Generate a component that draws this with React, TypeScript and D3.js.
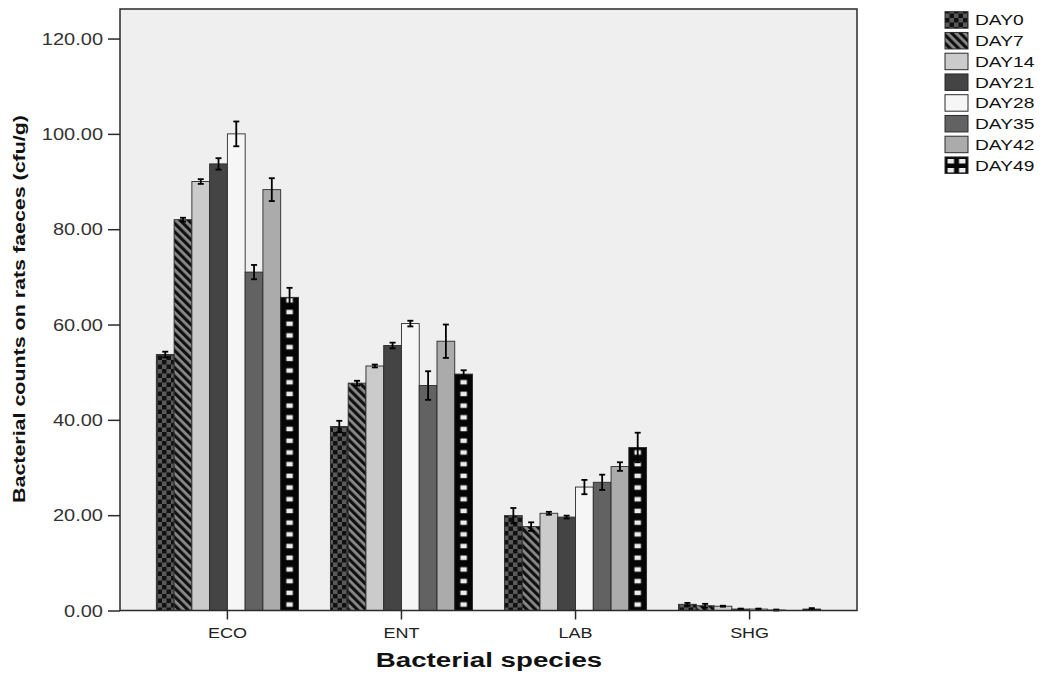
import React, { useEffect, useRef } from 'react';
import * as d3 from 'd3';

// categories / series
const species = ['ECO', 'ENT', 'LAB', 'SHG'];
const days = ['DAY0', 'DAY7', 'DAY14', 'DAY21', 'DAY28', 'DAY35', 'DAY42', 'DAY49'];

// means per species, one value per day
const ecoMeans = [53.7, 82.0, 90.0, 93.7, 100.0, 71.0, 88.3, 65.7];
const entMeans = [38.6, 47.7, 51.3, 55.6, 60.2, 47.2, 56.5, 49.6];
const labMeans = [19.9, 17.6, 20.4, 19.6, 25.9, 26.9, 30.2, 34.2];
const shgMeans = [1.3, 1.0, 0.9, 0.3, 0.3, 0.1, 0.0, 0.3];

// error (half length of error bar)
const ecoErrors = [0.6, 0.4, 0.5, 1.2, 2.6, 1.5, 2.4, 2.0];
const entErrors = [1.2, 0.5, 0.3, 0.6, 0.6, 3.0, 3.5, 0.8];
const labErrors = [1.6, 0.9, 0.3, 0.3, 1.5, 1.6, 0.9, 3.1];
const shgErrors = [0.3, 0.4, 0.1, 0.1, 0.1, 0.1, 0.0, 0.2];

const yTicks = [0, 20, 40, 60, 80, 100, 120];

const meansBySpecies = [ecoMeans, entMeans, labMeans, shgMeans];
const errorsBySpecies = [ecoErrors, entErrors, labErrors, shgErrors];

const W = 1048;
const H = 675;
const plot = { left: 120, right: 857, top: 9, bottom: 610.5 };
const FONT = '"Liberation Sans", Arial, sans-serif';

const solidFill: Record<string, string> = {
  DAY14: '#cbcbcb',
  DAY21: '#444444',
  DAY28: '#f6f6f6',
  DAY35: '#626262',
  DAY42: '#ababab',
};

const App = () => {
  const ref = useRef<SVGSVGElement>(null);

  useEffect(() => {
    const svg = d3.select(ref.current);
    svg.selectAll('*').remove();

    const rows = species.flatMap((sp, si) =>
      days.map((day, di) => ({
        sp,
        day,
        value: meansBySpecies[si][di],
        err: errorsBySpecies[si][di],
      }))
    );

    const x0 = d3.scaleBand().domain(species).range([plot.left, plot.right]).paddingInner(0).paddingOuter(0.117);
    const x1 = d3.scaleBand().domain(days).range([0, x0.bandwidth()]).paddingInner(0).paddingOuter(0.9);
    const y = d3.scaleLinear().domain([0, 126.2]).range([plot.bottom, plot.top]);
    const bw = x1.bandwidth();

    const defs = svg.append('defs');

    // checkerboard
    const check = defs.append('pattern').attr('id', 'pat-check')
      .attr('patternUnits', 'userSpaceOnUse').attr('width', 9).attr('height', 9);
    check.append('rect').attr('width', 9).attr('height', 9).attr('fill', '#5a5a5a');
    check.append('rect').attr('width', 4.5).attr('height', 4.5).attr('fill', '#111');
    check.append('rect').attr('x', 4.5).attr('y', 4.5).attr('width', 4.5).attr('height', 4.5).attr('fill', '#111');

    // diagonal stripes
    const diag = defs.append('pattern').attr('id', 'pat-diag')
      .attr('patternUnits', 'userSpaceOnUse').attr('width', 6).attr('height', 6)
      .attr('patternTransform', 'rotate(45)');
    diag.append('rect').attr('width', 6).attr('height', 6).attr('fill', '#111');
    diag.append('rect').attr('width', 6).attr('height', 2.8).attr('fill', '#8a8a8a');

    // ladder pattern, one per species so the squares sit centred in the bar
    species.forEach((sp) => {
      const bx = (x0(sp) as number) + (x1('DAY49') as number);
      const p = defs.append('pattern').attr('id', `pat-ladder-${sp}`)
        .attr('patternUnits', 'userSpaceOnUse')
        .attr('x', bx).attr('y', plot.bottom).attr('width', bw).attr('height', 11.7);
      p.append('rect').attr('width', bw).attr('height', 11.7).attr('fill', '#050505');
      p.append('rect').attr('x', (bw - 6.5) / 2).attr('y', 3.5).attr('width', 6.5).attr('height', 4.5).attr('fill', '#ececec');
    });
    const lg = defs.append('pattern').attr('id', 'pat-ladder-legend')
      .attr('patternUnits', 'userSpaceOnUse').attr('x', 945).attr('y', 157)
      .attr('width', 11.5).attr('height', 9);
    lg.append('rect').attr('width', 11.5).attr('height', 9).attr('fill', '#050505');
    lg.append('rect').attr('x', 2.5).attr('y', 2).attr('width', 6.5).attr('height', 4.5).attr('fill', '#ececec');

    const fillFor = (day: string, sp: string) => {
      if (day === 'DAY0') return 'url(#pat-check)';
      if (day === 'DAY7') return 'url(#pat-diag)';
      if (day === 'DAY49') return sp ? `url(#pat-ladder-${sp})` : 'url(#pat-ladder-legend)';
      return solidFill[day];
    };

    // plot background
    svg.append('rect')
      .attr('x', plot.left).attr('y', plot.top)
      .attr('width', plot.right - plot.left).attr('height', plot.bottom - plot.top)
      .attr('fill', '#efefef');

    // bars
    svg.append('g').selectAll('rect')
      .data(rows)
      .enter()
      .append('rect')
      .attr('x', (d) => (x0(d.sp) as number) + (x1(d.day) as number))
      .attr('y', (d) => y(d.value))
      .attr('width', bw)
      .attr('height', (d) => y(0) - y(d.value))
      .attr('fill', (d) => fillFor(d.day, d.sp))
      .attr('stroke', '#2b2b2b')
      .attr('stroke-width', 0.9);

    // error bars
    const eb = svg.append('g').attr('stroke', '#000').attr('stroke-width', 1.8);
    rows.filter((d) => d.err > 0).forEach((d) => {
      const cx = (x0(d.sp) as number) + (x1(d.day) as number) + bw / 2;
      eb.append('line').attr('x1', cx).attr('x2', cx).attr('y1', y(d.value - d.err)).attr('y2', y(d.value + d.err));
      eb.append('line').attr('x1', cx - 3).attr('x2', cx + 3).attr('y1', y(d.value - d.err)).attr('y2', y(d.value - d.err));
      eb.append('line').attr('x1', cx - 3).attr('x2', cx + 3).attr('y1', y(d.value + d.err)).attr('y2', y(d.value + d.err));
    });

    // frame
    svg.append('rect')
      .attr('x', plot.left).attr('y', plot.top)
      .attr('width', plot.right - plot.left).attr('height', plot.bottom - plot.top)
      .attr('fill', 'none').attr('stroke', '#2a2a2a').attr('stroke-width', 1.5);

    // y axis
    const yAxis = svg.append('g')
      .attr('transform', `translate(${plot.left},0)`)
      .call(d3.axisLeft(y).tickValues(yTicks).tickFormat(d3.format('.2f')).tickSize(12));
    yAxis.select('.domain').remove();
    yAxis.selectAll('line').attr('stroke', '#2a2a2a').attr('stroke-width', 1.5);
    yAxis.selectAll('text')
      .attr('x', 0).attr('dy', '0.36em')
      .attr('transform', 'translate(-17,0) scale(1.25,1)')
      .attr('font-family', FONT).attr('font-size', 16).attr('fill', '#333');

    // x axis
    const xAxis = svg.append('g')
      .attr('transform', `translate(0,${plot.bottom})`)
      .call(d3.axisBottom(x0).tickSize(9));
    xAxis.select('.domain').remove();
    xAxis.selectAll('line').attr('stroke', '#2a2a2a').attr('stroke-width', 1.5);
    xAxis.selectAll('text')
      .attr('y', 0).attr('dy', 0)
      .attr('transform', 'translate(0,27) scale(1.2,1)')
      .attr('font-family', FONT).attr('font-size', 15).attr('fill', '#222');

    // axis titles
    svg.append('text')
      .attr('transform', `translate(489,667) scale(1.32,1)`)
      .attr('text-anchor', 'middle')
      .attr('font-family', FONT).attr('font-size', 21).attr('font-weight', 'bold').attr('fill', '#111')
      .text('Bacterial species');

    svg.append('text')
      .attr('transform', 'translate(25,309) rotate(-90)')
      .attr('text-anchor', 'middle')
      .attr('textLength', 388).attr('lengthAdjust', 'spacingAndGlyphs')
      .attr('font-family', FONT).attr('font-size', 17).attr('font-weight', 'bold').attr('fill', '#111')
      .text('Bacterial counts on rats faeces (cfu/g)');

    // legend
    const legend = svg.append('g');
    days.forEach((day, i) => {
      const ry = 11.7 + i * 20.75;
      legend.append('rect')
        .attr('x', 945).attr('y', ry).attr('width', 23).attr('height', 16.5)
        .attr('fill', fillFor(day, day === 'DAY49' ? '' : 'x'))
        .attr('stroke', '#2b2b2b').attr('stroke-width', 1);
      legend.append('text')
        .attr('transform', `translate(975,${ry + 8.25 + 5.4}) scale(1.28,1)`)
        .attr('font-family', FONT).attr('font-size', 15).attr('fill', '#111')
        .text(day);
    });
  }, []);

  return (
    <svg
      ref={ref}
      width={W}
      height={H}
      style={{ position: 'absolute', left: 0, top: 0, background: '#fff' }}
    />
  );
};

export default App;
